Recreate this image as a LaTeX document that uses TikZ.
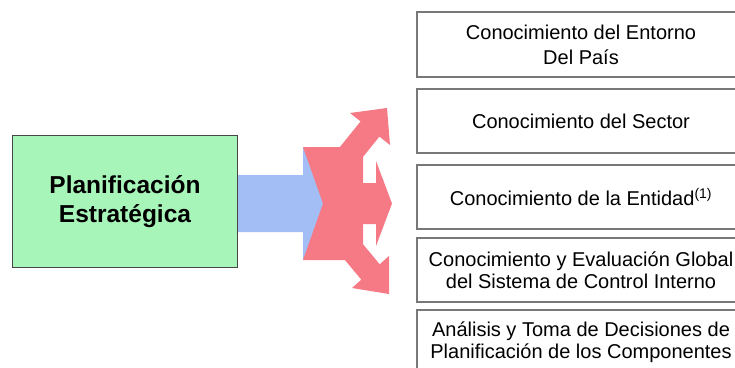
\documentclass[tikz,border=0pt]{standalone}
\usepackage{fontspec}
\setmainfont{Liberation Sans}
\definecolor{planfill}{RGB}{168,245,186}
\definecolor{planline}{RGB}{70,70,70}
\definecolor{bluearrow}{RGB}{162,190,244}
\definecolor{redarrow}{RGB}{245,122,133}
\definecolor{boxgray}{RGB}{120,120,120}
\tikzset{
  infobox/.style={draw=boxgray, line width=1.2pt, fill=white, minimum width=328pt,
    inner sep=0pt, align=center, font=\fontsize{20}{22}\selectfont},
  planbox/.style={draw=planline, line width=1pt, fill=planfill, minimum width=225pt,
    minimum height=132pt, inner sep=0pt, align=center,
    font=\fontsize{24.5}{29}\selectfont\bfseries},
  bluefill/.style={fill=bluearrow, draw=none},
  redfill/.style={fill=redarrow, draw=none}
}
\begin{document}
\begin{tikzpicture}[x=1pt,y=-1pt]
\useasboundingbox (0,0) rectangle (735,367);
\clip (0,0) rectangle (735,367);
\fill[white] (0,0) rectangle (735,367);
% left box
\node[planbox, anchor=north west] (plan) at (12,135) {Planificación\\Estratégica};
% blue arrow
\path[bluefill] (plan.east |- 0,175) -- (303,175) -- (303,147) -- (340,203.5) -- (303,260)
  -- (303,232) -- (plan.east |- 0,232) -- cycle;
% red three-way arrow
\path[redfill] (303,147) -- (345,147) -- (363,152) -- (363,255) -- (348,260) -- (303,260) -- (323,203.5) -- cycle;
\path[redfill] (329.1,160.4) -- (360.6,121.4) -- (350,113) -- (387,108) -- (390,145) -- (379.4,136.6) -- (347.9,175.6) -- cycle;
\path[redfill] (329.3,241.2) -- (361.3,279.7) -- (352,288) -- (389,294) -- (389,256) -- (379.7,264.3) -- (347.7,225.8) -- cycle;
\path[redfill] (345,183) -- (376,183) -- (376,161) -- (392,203.5) -- (376,246) -- (376,224) -- (345,224) -- cycle;
% right boxes
\node[infobox, minimum height=65pt, font=\fontsize{20}{25}\selectfont] (b1) at (581,44.5) {Conocimiento del Entorno\\Del País};
\node[infobox, minimum height=64pt] (b2) at (581,121) {Conocimiento del Sector};
\node[infobox, minimum height=64pt] (b3) at (581,197) {Conocimiento de la Entidad\textsuperscript{(1)}};
\node[infobox, minimum height=64pt] (b4) at (581,270) {Conocimiento y Evaluación Global\\del Sistema de Control Interno};
\node[infobox, minimum height=64pt] (b5) at (581,342) {Análisis y Toma de Decisiones de\\Planificación de los Componentes};
\end{tikzpicture}
\end{document}
